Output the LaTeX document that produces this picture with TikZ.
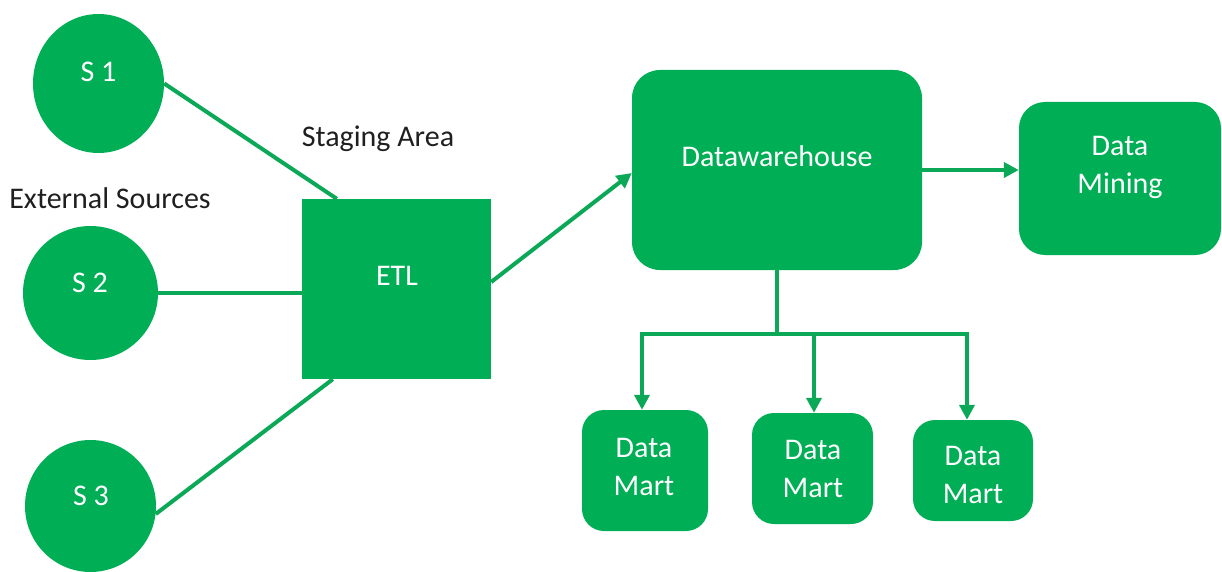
\documentclass[tikz,border=0pt]{standalone}
\usepackage{fontspec}
\setmainfont{Carlito}
\usetikzlibrary{shapes.geometric,arrows.meta,calc}
\definecolor{gr}{HTML}{00AE55}
\definecolor{lgr}{HTML}{0AA857}
\begin{document}
\begin{tikzpicture}[x=1pt,y=-1pt,
 src/.style={ellipse,fill=gr,inner sep=0},
 boxx/.style={rectangle,fill=gr,inner sep=0},
 rbox/.style={rectangle,rounded corners=#1,fill=gr,inner sep=0},
 wt/.style={text=white,font=\fontsize{30}{38}\selectfont,inner sep=0,align=center},
 bt/.style={text=black!88,font=\fontsize{30}{38}\selectfont,inner sep=0,anchor=base},
 conn/.style={draw=lgr,line width=4pt},
 arr/.style={conn,-{Triangle[length=15pt,width=15pt]}}]
\useasboundingbox (0,0) rectangle (1222,572);
% shapes
\node[src,minimum width=131pt,minimum height=139pt] (s1) at (98.5,83.5) {};
\node[src,minimum width=135pt,minimum height=134pt] (s2) at (90.5,293) {};
\node[src,minimum width=131pt,minimum height=132pt] (s3) at (90.5,506) {};
\node[boxx,minimum width=189pt,minimum height=180pt] (etl) at (396.5,289) {};
\node[rbox=28pt,minimum width=290pt,minimum height=200pt] (dw) at (777,170) {};
\node[rbox=26pt,minimum width=202pt,minimum height=153pt] (dmin) at (1120,178.5) {};
\node[rbox=22pt,minimum width=126pt,minimum height=121pt] (dm1) at (645,470.5) {};
\node[rbox=22pt,minimum width=121pt,minimum height=111pt] (dm2) at (812.5,468.5) {};
\node[rbox=22pt,minimum width=120pt,minimum height=101pt] (dm3) at (973,470.5) {};
% texts
\node[wt,anchor=base] (s1t) at (98.5,82) {S 1};
\node[wt,anchor=base] (s2t) at (90,292) {S 2};
\node[wt,anchor=base] (s3t) at (91,505) {S 3};
\node[wt,anchor=base] (etlt) at (397,285.7) {ETL};
\node[wt,anchor=base] (dwt) at (777,167) {Datawarehouse};
\node[wt] (dmint) at (1120,167.5) {Data\\Mining};
\node[wt] (dm1t) at (644,466.5) {Data\\Mart};
\node[wt] (dm2t) at (813,468.5) {Data\\Mart};
\node[wt] (dm3t) at (973,475) {Data\\Mart};
\node[bt] (stg) at (378,147) {Staging Area};
\node[bt] (ext) at (110,208) {External Sources};
% connectors
\draw[conn] (s1.east) -- ($(etl.north west)+(35,0)$);
\draw[conn] (s2.east) -- (s2.east -| etl.west);
\draw[conn] (s3.353) -- ($(etl.south west)+(31,0)$);
\draw[arr] ($(etl.east)+(0,-7)$) -- ($(dw.west)+(0,3)$);
\draw[arr] (dw.east) -- (dw.east -| dmin.west);
\coordinate (bus) at (777,334);
\coordinate (b1) at (642,334);
\coordinate (b2) at (814,334);
\coordinate (b3) at (967,334);
\draw[conn] (dw.south) -- (bus);
\draw[arr] (bus) -- (b1) -- (b1 |- dm1.north);
\draw[arr] (bus) -- (b3) -- (b3 |- dm3.north);
\draw[arr] (b2) -- (b2 |- dm2.north);
\end{tikzpicture}
\end{document}
